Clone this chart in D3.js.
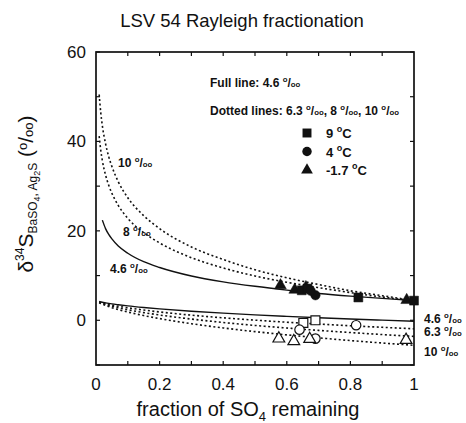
<!DOCTYPE html>
<html>
<head>
<meta charset="utf-8">
<script src="https://cdn.jsdelivr.net/npm/d3@7"></script>
<style>
  body { margin: 0; background: #fff; }
  svg text { font-family: "Liberation Sans", Arial, Helvetica, sans-serif; fill: #111; }
</style>
</head>
<body>
<svg id="chart" width="466" height="423"></svg>
<script>
// fraction of sulfate remaining (x grid for the model curves)
const fraction = [0.01, 0.015, 0.02, 0.03, 0.04, 0.05, 0.07, 0.1, 0.15, 0.2, 0.3, 0.4, 0.5, 0.6, 0.7, 0.8, 0.9, 1.0];

// residual sulfate (upper curves)
const sulfate46 = [null, null, 22.4, 20.5, 19.2, 18.2, 16.6, 15.0, 13.1, 11.8, 9.9, 8.6, 7.6, 6.75, 6.0, 5.4, 4.9, 4.4];
const sulfate8  = [41.2, 38.0, 35.7, 32.5, 30.2, 28.4, 25.7, 22.8, 19.6, 17.3, 14.0, 11.7, 9.9, 8.5, 7.3, 6.2, 5.2, 4.4];
const sulfate10 = [50.5, 46.4, 43.5, 39.5, 36.6, 34.4, 31.0, 27.4, 23.4, 20.5, 16.4, 13.6, 11.3, 9.5, 8.0, 6.6, 5.5, 4.4];

// accumulated sulfide (lower curves)
const sulfide46 = [4.19, 4.11, 4.03, 3.90, 3.78, 3.67, 3.48, 3.22, 2.86, 2.55, 2.03, 1.59, 1.21, 0.88, 0.57, 0.29, 0.04, -0.2];
const sulfide63 = [4.11, 4.00, 3.90, 3.72, 3.56, 3.41, 3.14, 2.79, 2.29, 1.86, 1.15, 0.55, 0.03, -0.43, -0.84, -1.22, -1.57, -1.9];
const sulfide8  = [4.03, 3.89, 3.76, 3.53, 3.33, 3.14, 2.80, 2.35, 1.72, 1.18, 0.27, -0.49, -1.15, -1.73, -2.26, -2.74, -3.19, -3.6];
const sulfide10 = [3.94, 3.76, 3.60, 3.32, 3.06, 2.82, 2.40, 1.84, 1.05, 0.38, -0.76, -1.71, -2.53, -3.26, -3.92, -4.53, -5.08, -5.6];

// measured BaSO4 (filled) : [fraction, delta]
const baso4_9C   = [[0.647, 6.7], [0.665, 7.1], [0.825, 5.1], [1.0, 4.4]];
const baso4_4C   = [[0.69, 5.6], [0.675, 6.6]];
const baso4_m17C = [[0.58, 7.8], [0.625, 6.8], [0.66, 7.4], [0.977, 4.5]];

// measured Ag2S (open)
const ag2s_9C   = [[0.652, -0.6], [0.69, 0.0]];
const ag2s_4C   = [[0.818, -1.1], [0.64, -2.1], [0.69, -4.1]];
const ag2s_m17C = [[0.575, -4.1], [0.622, -4.7], [0.672, -4.2], [0.975, -4.4]];

const xTicks = [0, 0.2, 0.4, 0.6, 0.8, 1];
const yTicks = [0, 20, 40, 60];
const legendItems = ["9 ", "4 ", "-1.7 "];

const svg = d3.select("#chart");
const x = d3.scaleLinear().domain([0, 1]).range([96, 414]);
const y = d3.scaleLinear().domain([-10, 60]).range([365, 52]);

// frame
svg.append("rect")
  .attr("x", x(0)).attr("y", y(60))
  .attr("width", x(1) - x(0)).attr("height", y(-10) - y(60))
  .attr("fill", "none").attr("stroke", "#111").attr("stroke-width", 1.7);

// inward ticks on all four sides
const xMinor = d3.range(0.1, 1, 0.1);
const yMinor = d3.range(-10, 61, 10);
svg.append("g").selectAll("line").data(xMinor).enter().append("line")
  .attr("x1", d => x(d)).attr("x2", d => x(d))
  .attr("y1", y(-10)).attr("y2", y(-10) - 4)
  .attr("stroke", "#111").attr("stroke-width", 1.2);
svg.append("g").selectAll("line").data(xMinor).enter().append("line")
  .attr("x1", d => x(d)).attr("x2", d => x(d))
  .attr("y1", y(60)).attr("y2", y(60) + 4)
  .attr("stroke", "#111").attr("stroke-width", 1.2);
svg.append("g").selectAll("line").data(yMinor).enter().append("line")
  .attr("x1", x(0)).attr("x2", x(0) + 4)
  .attr("y1", d => y(d)).attr("y2", d => y(d))
  .attr("stroke", "#111").attr("stroke-width", 1.2);
svg.append("g").selectAll("line").data(yMinor).enter().append("line")
  .attr("x1", x(1)).attr("x2", x(1) - 4)
  .attr("y1", d => y(d)).attr("y2", d => y(d))
  .attr("stroke", "#111").attr("stroke-width", 1.2);

// tick labels
svg.append("g").selectAll("text").data(xTicks).enter().append("text")
  .attr("x", d => x(d)).attr("y", 390)
  .attr("text-anchor", "middle").attr("font-size", 17)
  .text(d => d);
svg.append("g").selectAll("text").data(yTicks).enter().append("text")
  .attr("x", 86).attr("y", d => y(d) + 6)
  .attr("text-anchor", "end").attr("font-size", 17)
  .text(d => d);

// title
svg.append("text").attr("x", 242).attr("y", 27)
  .attr("text-anchor", "middle").attr("font-size", 18.5)
  .text("LSV 54 Rayleigh fractionation");

// x axis title
const xt = svg.append("text").attr("x", 248).attr("y", 416)
  .attr("text-anchor", "middle").attr("font-size", 20);
xt.append("tspan").text("fraction of SO");
xt.append("tspan").attr("font-size", 13).attr("dy", 5).text("4");
xt.append("tspan").attr("dy", -5).text(" remaining");

// y axis title
const yt = svg.append("text")
  .attr("transform", "translate(33,194) rotate(-90)")
  .attr("text-anchor", "middle").attr("font-size", 21);
yt.append("tspan").text("\u03b4");
yt.append("tspan").attr("font-size", 12).attr("dy", -9).text("34");
yt.append("tspan").attr("dy", 9).text("S");
yt.append("tspan").attr("font-size", 12).attr("dy", 4).text("BaSO");
yt.append("tspan").attr("font-size", 9).attr("dy", 3).text("4");
yt.append("tspan").attr("font-size", 12).attr("dy", -3).text(", Ag");
yt.append("tspan").attr("font-size", 9).attr("dy", 3).text("2");
yt.append("tspan").attr("font-size", 12).attr("dy", -3).text("S");
yt.append("tspan").attr("dy", -4).text(" (");
yt.append("tspan").attr("font-size", 13).attr("dy", -6).text("o");
yt.append("tspan").attr("dy", 6).text("/");
yt.append("tspan").attr("font-size", 13).text("oo");
yt.append("tspan").text(")");

// model curves
const line = d3.line()
  .defined(d => d[1] != null)
  .x(d => x(d[0])).y(d => y(d[1]))
  .curve(d3.curveMonotoneX);

const curves = [
  { v: sulfate46, dotted: false }, { v: sulfate8, dotted: true }, { v: sulfate10, dotted: true },
  { v: sulfide46, dotted: false }, { v: sulfide63, dotted: true }, { v: sulfide8, dotted: true }, { v: sulfide10, dotted: true }
];
svg.append("g").selectAll("path").data(curves).enter().append("path")
  .attr("d", c => line(fraction.map((f, i) => [f, c.v[i]])))
  .attr("fill", "none").attr("stroke", "#111")
  .attr("stroke-width", c => c.dotted ? 1.6 : 1.4)
  .attr("stroke-dasharray", c => c.dotted ? "2,2.5" : null);

// permil helper
function permil(t, fs) {
  t.append("tspan").attr("font-size", fs * 0.65).attr("dy", -fs * 0.4).text("o");
  t.append("tspan").attr("dy", fs * 0.4).text("/");
  t.append("tspan").attr("font-size", fs * 0.65).text("oo");
}

function label(px, py, s, fs) {
  const t = svg.append("text").attr("x", px).attr("y", py)
    .attr("font-size", fs).attr("font-weight", "bold");
  t.append("tspan").text(s);
  permil(t, fs);
  return t;
}

// curve labels
label(118, 167, "10 ", 12);
label(123, 236, "8 ", 12);
label(110, 273, "4.6 ", 12);
label(424, 323, "4.6 ", 12);
label(424, 336, "6.3 ", 12);
label(424, 356, "10 ", 12);

// legend texts
const l1 = svg.append("text").attr("x", 210).attr("y", 87).attr("font-size", 12).attr("font-weight", "bold");
l1.append("tspan").text("Full line: 4.6 ");
permil(l1, 12);
const l2 = svg.append("text").attr("x", 210).attr("y", 115).attr("font-size", 12).attr("font-weight", "bold");
l2.append("tspan").text("Dotted lines: 6.3 ");
permil(l2, 12);
l2.append("tspan").text(", 8 ");
permil(l2, 12);
l2.append("tspan").text(", 10 ");
permil(l2, 12);

// markers
const shapes = [d3.symbolSquare, d3.symbolCircle, d3.symbolTriangle];
const sizes = [80, 70, 60];

function drawPoints(pts, k, filled) {
  svg.append("g").selectAll("path").data(pts).enter().append("path")
    .attr("transform", d => `translate(${x(d[0])},${y(d[1])})`)
    .attr("d", d3.symbol().type(shapes[k]).size(sizes[k]))
    .attr("fill", filled ? "#111" : "#fff")
    .attr("stroke", "#111").attr("stroke-width", filled ? 0.5 : 1.2);
}
drawPoints(ag2s_9C, 0, false);
drawPoints(ag2s_4C, 1, false);
drawPoints(ag2s_m17C, 2, false);
drawPoints(baso4_m17C, 2, true);
drawPoints(baso4_9C, 0, true);
drawPoints(baso4_4C, 1, true);

// symbol legend
legendItems.forEach((s, k) => {
  const ly = 133 + k * 18.5;
  svg.append("path")
    .attr("transform", `translate(307,${ly})`)
    .attr("d", d3.symbol().type(shapes[k]).size(sizes[k]))
    .attr("fill", "#111");
  const t = svg.append("text").attr("x", 326).attr("y", ly + 5)
    .attr("font-size", 13).attr("font-weight", "bold");
  t.append("tspan").text(s);
  t.append("tspan").attr("font-size", 9).attr("dy", -6).text("o");
  t.append("tspan").attr("dy", 6).text("C");
});
</script>
</body>
</html>
